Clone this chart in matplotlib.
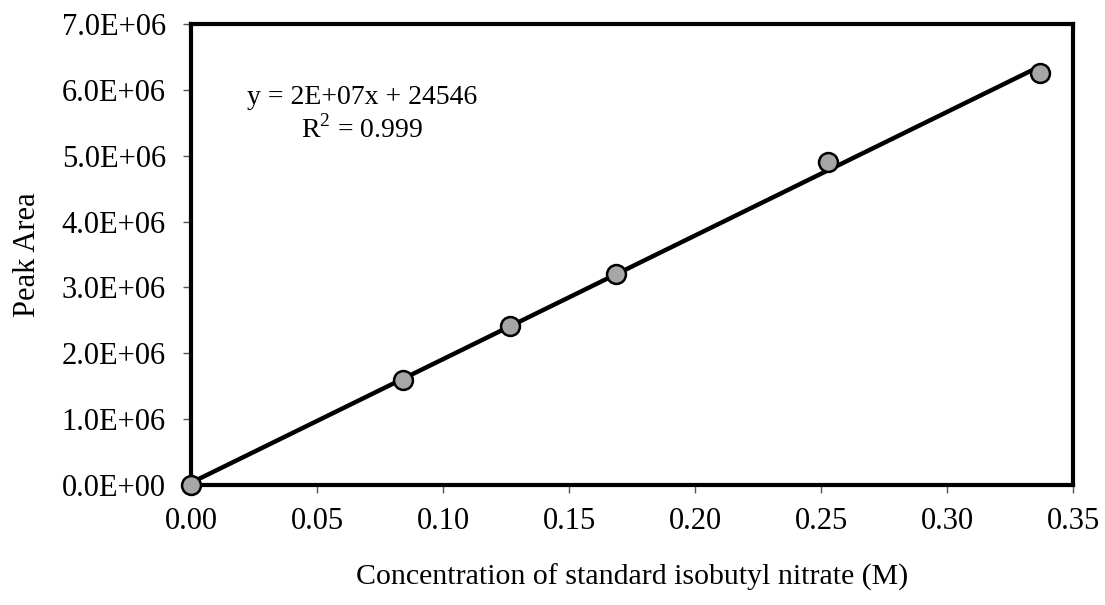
import numpy as np
import matplotlib
matplotlib.use("Agg")
import matplotlib.pyplot as plt
from matplotlib.ticker import FuncFormatter

# Data
conc = [0.0, 0.0843, 0.1264, 0.1685, 0.2528, 0.337]
area = [0.0, 1.60e6, 2.42e6, 3.21e6, 4.90e6, 6.26e6]
x_ticks = [0.00, 0.05, 0.10, 0.15, 0.20, 0.25, 0.30, 0.35]
y_ticks = [0, 1e6, 2e6, 3e6, 4e6, 5e6, 6e6, 7e6]
x_label = "Concentration of standard isobutyl nitrate (M)"
y_label = "Peak Area"
eq_text = "y = 2E+07x + 24546"
r2_text = "R$^2$ = 0.999"

plt.rcParams['font.family'] = ['Liberation Serif', 'DejaVu Serif']
plt.rcParams['mathtext.fontset'] = 'custom'
plt.rcParams['mathtext.rm'] = 'Liberation Serif'

fig = plt.figure(figsize=(11.05, 6.05), dpi=100)
ax = fig.add_axes([191/1105, 1 - 485/605, (1073 - 191)/1105, (485 - 24)/605])

# Trendline (linear fit of the data)
slope, intercept = np.polyfit(conc, area, 1)
xl = np.array([min(conc), max(conc)])
ax.plot(xl, slope * xl + intercept, color='black', lw=3.2, zorder=2,
        solid_capstyle='round', clip_on=False)

ax.scatter(conc, area, s=185, facecolor='#a6a6a6', edgecolor='black',
           linewidths=1.8, zorder=3, clip_on=False)

ax.set_xlim(0, 0.35)
ax.set_ylim(0, 7e6)
ax.set_xticks(x_ticks)
ax.set_yticks(y_ticks)
ax.xaxis.set_major_formatter(FuncFormatter(lambda v, p: f"{v:.2f}"))
ax.yaxis.set_major_formatter(FuncFormatter(lambda v, p: f"{v:.1E}"))

for s in ax.spines.values():
    s.set_linewidth(3.0)
    s.set_color('black')

ax.tick_params(axis='both', direction='out', length=6, width=1.0,
               color='#555555', labelsize=22)
ax.tick_params(axis='x', pad=10)
ax.tick_params(axis='y', pad=12)

ax.set_xlabel(x_label, fontsize=21.5, labelpad=20)
ax.set_ylabel(y_label, fontsize=22, labelpad=14)

ax.text(0.194, 0.804, eq_text + "\n" + r2_text, transform=ax.transAxes,
        ha='center', va='center', fontsize=20, linespacing=1.26,
        multialignment='center')

fig.savefig("out.png", dpi=100)
